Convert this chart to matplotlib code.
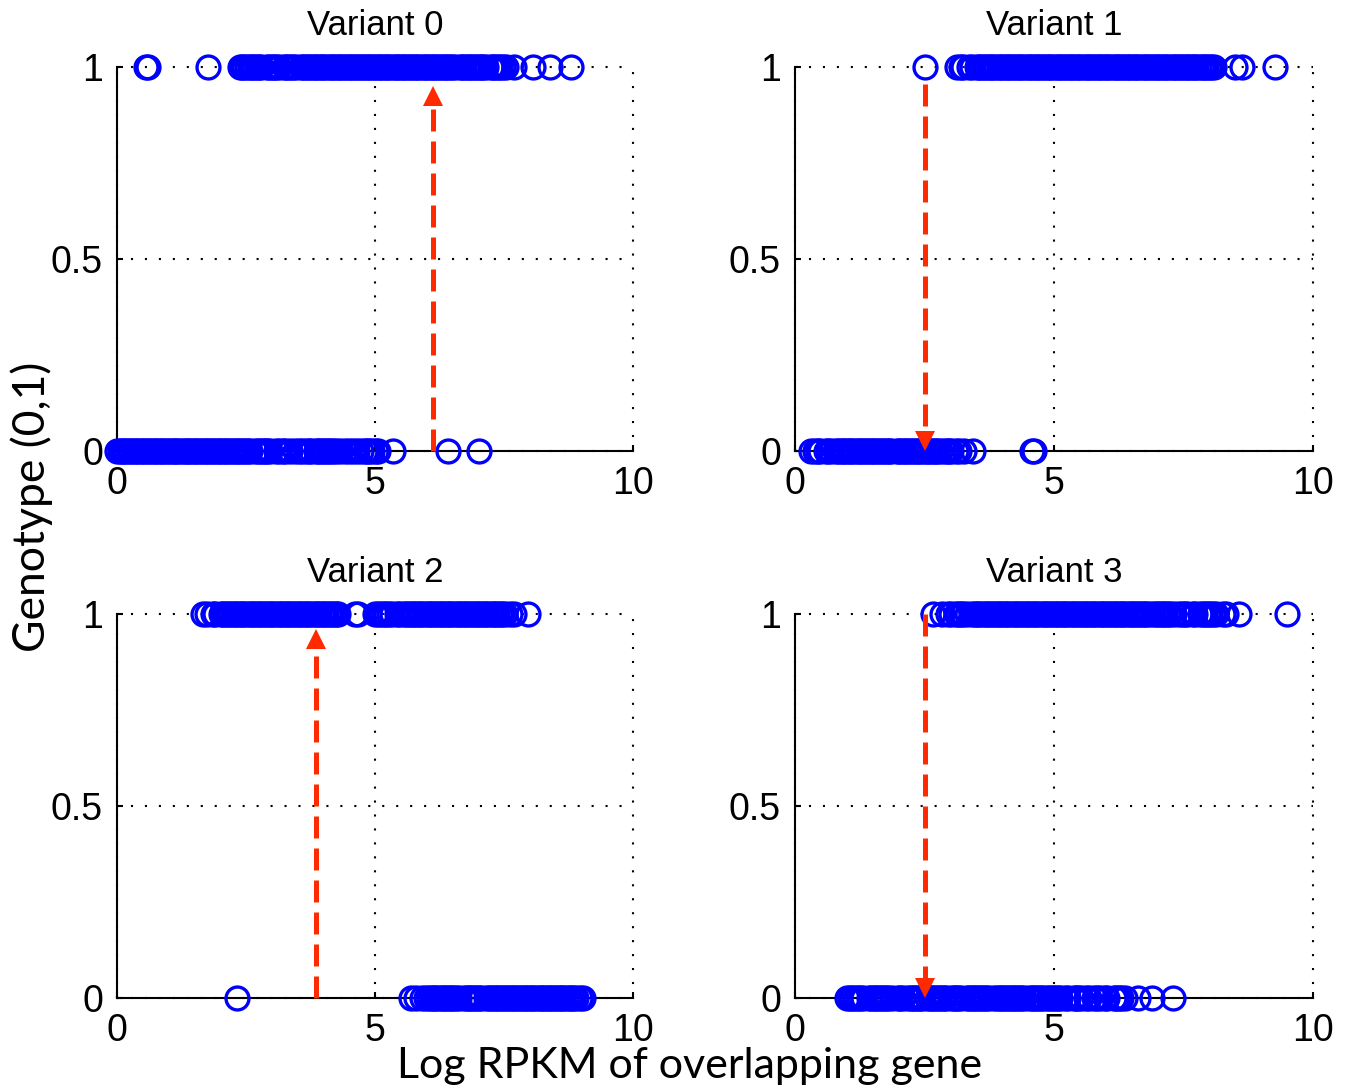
import numpy as np
import matplotlib
matplotlib.use('Agg')
import matplotlib.pyplot as plt

plt.rcParams['font.family'] = ['Liberation Sans', 'DejaVu Sans']

titles = ['Variant 0', 'Variant 1', 'Variant 2', 'Variant 3']
x_ticks = [0, 5, 10]
x_tick_labels = ['0', '5', '10']
y_ticks = [0, 0.5, 1]
y_tick_labels = ['0', '0.5', '1']

# log RPKM of samples with genotype 1
v0_hi = [0.57, 0.61, 1.77,
         2.38, 2.43, 2.47, 2.52, 2.57, 2.62, 2.66, 2.71, 2.76, 2.80,
         2.91, 2.95, 3.00, 3.05, 3.09, 3.13,
         3.23, 3.27, 3.32, 3.37, 3.41, 3.46,
         3.56, 3.60, 3.65, 3.70, 3.74, 3.79, 3.84, 3.88, 3.93, 3.98, 4.02, 4.07,
         4.12, 4.16, 4.21, 4.26, 4.30, 4.35, 4.40, 4.44, 4.49, 4.54, 4.58, 4.63,
         4.68, 4.72, 4.77, 4.82, 4.86, 4.91, 4.96, 5.00, 5.05, 5.10, 5.14, 5.19,
         5.24, 5.28, 5.33, 5.38, 5.42, 5.47, 5.52, 5.56, 5.61, 5.66, 5.70, 5.75,
         5.80, 5.84, 5.89, 5.94, 5.98, 6.03, 6.08, 6.12, 6.17, 6.22, 6.26, 6.31,
         6.36, 6.40, 6.45, 6.50, 6.55,
         6.64, 6.68, 6.73, 6.78, 6.82, 6.87, 6.92, 6.96, 7.01, 7.06, 7.10, 7.15,
         7.24, 7.28, 7.33, 7.38, 7.42, 7.48, 7.53,
         7.69, 8.06, 8.39, 8.80]
v1_hi = [2.50, 3.13, 3.20, 3.25, 3.36, 3.41, 3.51, 3.55,
         3.60, 3.65, 3.69, 3.74, 3.79, 3.83, 3.88, 3.93, 3.97, 4.02, 4.07, 4.11,
         4.16, 4.21, 4.25, 4.30, 4.35, 4.39, 4.44, 4.49, 4.53, 4.58, 4.63, 4.67,
         4.72, 4.77, 4.81, 4.86, 4.91, 4.95, 5.00, 5.05, 5.09, 5.14, 5.19, 5.23,
         5.28, 5.33, 5.37, 5.42, 5.47, 5.51, 5.56, 5.61, 5.65, 5.70, 5.75, 5.79,
         5.84, 5.89, 5.93, 5.98, 6.03, 6.07, 6.12, 6.17, 6.21, 6.26, 6.31, 6.35,
         6.40, 6.45, 6.49, 6.54, 6.59, 6.63, 6.68, 6.73, 6.77, 6.82, 6.87, 6.91,
         6.96, 7.01, 7.05, 7.10, 7.15, 7.19, 7.24, 7.29, 7.33, 7.38, 7.43, 7.47,
         7.52, 7.57, 7.61, 7.66, 7.71, 7.75, 7.80, 7.85, 7.89, 7.94, 7.99, 8.03,
         8.08, 8.50, 8.62, 9.27]
v2_hi = [1.67, 1.74, 1.86, 1.90, 2.01, 2.05, 2.10, 2.15, 2.19, 2.24, 2.29, 2.33,
         2.38, 2.43, 2.47, 2.52, 2.57, 2.61, 2.66, 2.71, 2.75, 2.80, 2.85, 2.89,
         2.94, 2.99, 3.03, 3.08, 3.13, 3.17, 3.22, 3.27, 3.31, 3.36, 3.41, 3.45,
         3.50, 3.55, 3.59, 3.64, 3.69, 3.73, 3.78, 3.83, 3.87, 3.92, 3.97, 4.01,
         4.06, 4.11, 4.15, 4.20, 4.25, 4.29,
         4.62, 4.68, 5.00, 5.05, 5.12, 5.17, 5.22, 5.27, 5.32, 5.42, 5.46,
         5.55, 5.60, 5.64, 5.69, 5.74, 5.78, 5.83, 5.88, 5.92, 5.97, 6.02, 6.06,
         6.11, 6.16, 6.20, 6.25, 6.30, 6.34, 6.39, 6.44, 6.48, 6.53, 6.58, 6.62,
         6.67, 6.72, 6.76, 6.81, 6.86, 6.90, 6.95, 7.00, 7.04, 7.09, 7.14, 7.18,
         7.23, 7.28, 7.32, 7.37, 7.42, 7.46, 7.51, 7.62, 7.70, 7.96]
v3_hi = [2.67, 2.84, 2.95, 3.02, 3.10, 3.15, 3.20, 3.25, 3.32, 3.42, 3.47,
         3.52, 3.56, 3.61, 3.66, 3.70, 3.75, 3.80, 3.84, 3.89, 3.94, 3.98, 4.03,
         4.08, 4.12, 4.17, 4.22, 4.26, 4.31, 4.36, 4.40, 4.45, 4.50, 4.54, 4.59,
         4.64, 4.68, 4.73, 4.78, 4.82, 4.87, 4.92, 4.96, 5.01, 5.06, 5.10, 5.15,
         5.20, 5.24, 5.29, 5.34, 5.38, 5.43, 5.48, 5.52, 5.57, 5.62, 5.66, 5.71,
         5.76, 5.80, 5.85, 5.90, 5.94, 5.99, 6.04, 6.08, 6.13, 6.18, 6.22, 6.27,
         6.32, 6.36, 6.41, 6.46, 6.50, 6.55, 6.60, 6.64, 6.69, 6.74, 6.78, 6.83,
         6.92, 6.97, 7.01, 7.06, 7.11, 7.15, 7.20, 7.24, 7.32, 7.42, 7.47, 7.52,
         7.57, 7.68, 7.73, 7.82, 7.87, 7.92, 7.97, 8.02, 8.07, 8.13, 8.27, 8.33,
         8.57, 9.50]

# log RPKM of samples with genotype 0
v0_lo = [0.00, 0.05, 0.09, 0.14, 0.18, 0.23, 0.27, 0.32, 0.37, 0.41, 0.46, 0.50,
         0.55, 0.60, 0.64, 0.69, 0.73, 0.78, 0.83, 0.87, 0.92, 0.96, 1.01, 1.06,
         1.10, 1.15, 1.19, 1.24, 1.29, 1.33, 1.38, 1.42, 1.47, 1.52, 1.56, 1.61,
         1.65, 1.70, 1.75, 1.79, 1.84, 1.88, 1.93, 1.98, 2.02, 2.07, 2.11, 2.16,
         2.21, 2.25, 2.30, 2.34, 2.39, 2.44, 2.48, 2.53, 2.58,
         2.68, 2.73, 2.77, 2.82, 2.87, 2.91, 2.96,
         3.08, 3.13, 3.22, 3.26, 3.35, 3.45, 3.52, 3.58, 3.66, 3.72,
         3.76, 3.85, 3.89, 3.94, 3.99, 4.03, 4.08, 4.13, 4.18,
         4.25, 4.32, 4.42, 4.50, 4.58, 4.65,
         4.72, 4.80, 4.84, 4.89, 4.94, 5.02, 5.06,
         5.35, 6.42, 7.02]
v1_lo = [0.30, 0.38, 0.44, 0.49, 0.60, 0.64, 0.69, 0.79, 0.83, 0.88, 0.93, 0.97,
         1.02, 1.07, 1.11, 1.16, 1.21, 1.25, 1.30, 1.35, 1.39, 1.44, 1.49, 1.53,
         1.58, 1.63, 1.67, 1.72, 1.77, 1.81, 1.86,
         1.96, 2.00, 2.05, 2.10, 2.14, 2.19, 2.24, 2.28, 2.33, 2.38, 2.42, 2.47,
         2.52, 2.56, 2.61, 2.66, 2.70, 2.75, 2.79,
         2.88, 2.93, 2.97, 3.02, 3.11, 3.16, 3.26, 3.43, 4.58, 4.62]
v2_lo = [2.33, 5.69, 5.80, 5.92, 5.98, 6.05, 6.10, 6.15, 6.19, 6.24, 6.29, 6.33,
         6.38, 6.43, 6.47, 6.52, 6.57, 6.62,
         6.73, 6.78, 6.82, 6.87, 6.92, 6.96, 7.01, 7.06,
         7.16, 7.21, 7.25, 7.30, 7.35, 7.39, 7.44, 7.49, 7.53, 7.58, 7.63, 7.67,
         7.72, 7.77, 7.81, 7.86, 7.91, 7.95, 8.00, 8.05, 8.09, 8.14, 8.19, 8.23,
         8.28, 8.33, 8.37, 8.42, 8.47, 8.51, 8.56, 8.61, 8.65, 8.70, 8.75, 8.79,
         8.84, 8.90, 8.97, 9.03]
v3_lo = [1.00, 1.06, 1.11, 1.16, 1.21, 1.26, 1.32, 1.42, 1.47, 1.52, 1.56, 1.61,
         1.66, 1.70, 1.75, 1.80, 1.88, 1.98, 2.03, 2.08, 2.18, 2.23, 2.27, 2.32,
         2.37, 2.41, 2.46, 2.55, 2.60, 2.64, 2.69, 2.74, 2.78, 2.83, 2.88, 2.92,
         3.01, 3.06, 3.11, 3.15, 3.20, 3.32, 3.36, 3.41, 3.46, 3.50, 3.55, 3.60,
         3.64, 3.69, 3.74, 3.85, 3.90, 3.95, 3.99, 4.04, 4.09, 4.13, 4.18, 4.23,
         4.27, 4.32, 4.37, 4.42, 4.52, 4.57, 4.61, 4.66, 4.71, 4.75, 4.80, 4.88,
         4.93, 4.98, 5.02, 5.07, 5.12, 5.22, 5.27, 5.38, 5.43, 5.47, 5.52, 5.62,
         5.67, 5.78, 5.83, 5.88, 5.98, 6.03, 6.15, 6.20, 6.25, 6.30, 6.38,
         6.63, 6.90, 7.30]

highs = [v0_hi, v1_hi, v2_hi, v3_hi]
lows = [v0_lo, v1_lo, v2_lo, v3_lo]

# red dashed arrows: x position, start y, tip y
arrow_x = [6.12, 2.51, 3.86, 2.51]
arrow_from = [0.0, 0.955, 0.0, 1.0]
arrow_to = [0.953, 0.0, 0.963, 0.0]

blue = '#0000ff'
red = '#ff2a00'

fig = plt.figure(figsize=(13.46, 10.89), dpi=100)
W, H = 1346.0, 1089.0
# axes boxes in pixels: left, top, right, bottom
boxes = [(117, 67, 633, 451), (795, 67, 1313, 451),
         (117, 614, 633, 998), (795, 614, 1313, 998)]

for i, (l, t, r, b) in enumerate(boxes):
    ax = fig.add_axes([l / W, 1 - b / H, (r - l) / W, (b - t) / H])
    hi = highs[i]
    lo = lows[i]
    ax.plot(hi, np.ones(len(hi)), 'o', ls='none', mfc='none', mec=blue,
            ms=16.5, mew=2.4, clip_on=False, zorder=3)
    ax.plot(lo, np.zeros(len(lo)), 'o', ls='none', mfc='none', mec=blue,
            ms=16.5, mew=2.4, clip_on=False, zorder=3)

    # arrow: dashed shaft + triangle head
    head = 21.0 / (b - t)  # head height in axis units
    if arrow_to[i] > arrow_from[i]:
        y_base = arrow_to[i] - head * 0.9
        y_head = arrow_to[i] - head / 2
        mk = '^'
    else:
        y_base = arrow_to[i] + head * 0.9
        y_head = arrow_to[i] + head / 2
        mk = 'v'
    ax.plot([arrow_x[i], arrow_x[i]], [arrow_from[i], y_base], color=red,
            lw=3.6, dashes=(4.4, 2.0), solid_capstyle='butt',
            dash_capstyle='butt', zorder=4, clip_on=False)
    ax.plot([arrow_x[i]], [y_head], marker=mk, ms=15, color=red, mew=0,
            zorder=4, clip_on=False)

    ax.set_xlim(0, 10)
    ax.set_ylim(0, 1)
    ax.set_xticks(x_ticks)
    ax.set_xticklabels(x_tick_labels)
    ax.set_yticks(y_ticks)
    ax.set_yticklabels(y_tick_labels)
    for s in ['top', 'right']:
        ax.spines[s].set_visible(False)
    for s in ['left', 'bottom']:
        ax.spines[s].set_linewidth(1.5)
    ax.set_axisbelow(True)
    ax.grid(True, color='black', lw=1.5, linestyle=(0, (1, 5.7)))
    for gl in ax.get_xgridlines() + ax.get_ygridlines():
        gl.set_clip_on(False)
    ax.tick_params(axis='both', direction='in', length=4, width=1.5,
                   labelsize=27)
    ax.tick_params(axis='x', pad=11)
    ax.tick_params(axis='y', pad=10)
    ax.set_title(titles[i], fontsize=25, pad=23)

fig.text(45 / W, 0.535, 'Genotype (0,1)', rotation=90, rotation_mode='anchor',
         ha='center', va='baseline', fontsize=32, family=['Lato', 'DejaVu Sans'])
fig.text(690 / W, 11 / H, 'Log RPKM of overlapping gene', ha='center',
         va='baseline', fontsize=31, family=['Lato', 'DejaVu Sans'])

fig.savefig('out.png', dpi=100)
